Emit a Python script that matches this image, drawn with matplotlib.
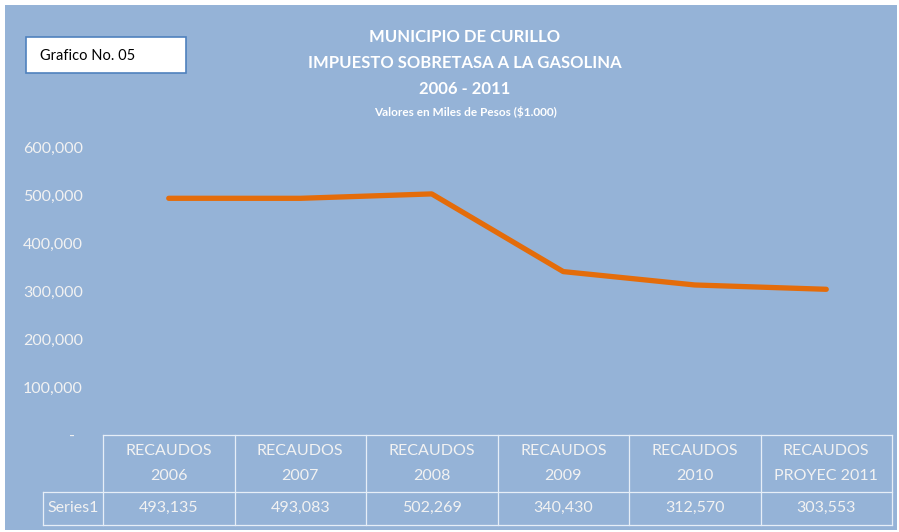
import matplotlib
matplotlib.use("Agg")
import matplotlib.pyplot as plt
from matplotlib.patches import Rectangle
from matplotlib.transforms import blended_transform_factory

plt.rcParams['font.family'] = ['Lato', 'DejaVu Sans']

categories = ["RECAUDOS\n2006", "RECAUDOS\n2007", "RECAUDOS\n2008",
              "RECAUDOS\n2009", "RECAUDOS\n2010", "RECAUDOS\nPROYEC 2011"]
values = [493135, 493083, 502269, 340430, 312570, 303553]
series_name = "Series1"
yticks = [0, 100000, 200000, 300000, 400000, 500000, 600000]
ytick_labels = ["-  ", "100,000", "200,000", "300,000", "400,000", "500,000", "600,000"]
title_lines = ["MUNICIPIO DE CURILLO", "IMPUESTO SOBRETASA A LA GASOLINA", "2006 - 2011"]
subtitle = "Valores en Miles de Pesos ($1.000)"
box_label = "Grafico No. 05"

W, H = 899, 532
BG = "#95B3D7"
TXT = "#F2F2F2"
LINE = "#E46C0A"
GRID = "#E6EEF7"
FS = 11.5

fig = plt.figure(figsize=(W / 100, H / 100), dpi=100)
fig.patch.set_facecolor("white")

def fx(px):
    return px / W

def fy(py):
    return 1 - py / H

fig.patches.append(Rectangle((fx(5), fy(530)), fx(897) - fx(5), fy(5) - fy(530),
                             transform=fig.transFigure, facecolor=BG, edgecolor="none", zorder=-5))

ty = [37, 63, 89]
for t, y in zip(title_lines, ty):
    fig.text(fx(465), fy(y), t, ha="center", va="center", color="white",
             fontsize=12, fontweight="bold")
fig.text(fx(465), fy(112), subtitle, ha="center", va="center", color="white",
         fontsize=8.5, fontweight="bold")

fig.patches.append(Rectangle((fx(26), fy(73)), fx(186) - fx(26), fy(37) - fy(73),
                             transform=fig.transFigure, facecolor="white",
                             edgecolor="#4F81BD", linewidth=1.2, zorder=2))
fig.text(fx(40), fy(56), box_label, ha="left", va="center", color="black", fontsize=10.5, zorder=3)

ax = fig.add_axes([fx(103), fy(435), fx(892) - fx(103), fy(147) - fy(435)])
ax.set_facecolor("none")
x = list(range(len(values)))
ax.plot(x, values, color=LINE, linewidth=3.8, solid_capstyle="round", solid_joinstyle="round")
ax.set_xlim(-0.5, len(values) - 0.5)
ax.set_ylim(0, 600000)
ax.set_yticks(yticks)
ax.set_yticklabels(ytick_labels)
ax.tick_params(axis="y", length=0, pad=14.4, labelsize=FS, labelcolor=TXT)
ax.set_xticks([])
for s in ax.spines.values():
    s.set_visible(False)

bt = blended_transform_factory(ax.transData, ax.transAxes)
ah = 435 - 147
r1 = -(492 - 435) / ah
r2 = -(525 - 435) / ah
left_cell = -(103 - 43) / (892 - 103)
lw = 0.9
ax.plot([-0.5, len(values) - 0.5], [0, 0], transform=bt, color=GRID, lw=lw, clip_on=False)
for b in [i - 0.5 for i in range(len(values) + 1)]:
    ax.plot([b, b], [0, r2], transform=bt, color=GRID, lw=lw, clip_on=False)
ax.plot([left_cell, 1], [r1, r1], transform=ax.transAxes, color=GRID, lw=lw, clip_on=False)
ax.plot([left_cell, 1], [r2, r2], transform=ax.transAxes, color=GRID, lw=lw, clip_on=False)
ax.plot([left_cell, left_cell], [r1, r2], transform=ax.transAxes, color=GRID, lw=lw, clip_on=False)

for i, (c, v) in enumerate(zip(categories, values)):
    l1, l2 = c.split("\n")
    ax.text(i, -(451 - 435) / ah, l1, transform=bt, ha="center", va="center", color=TXT, fontsize=FS)
    ax.text(i, -(476 - 435) / ah, l2, transform=bt, ha="center", va="center", color=TXT, fontsize=FS)
    ax.text(i, -(508 - 435) / ah, f"{v:,}", transform=bt, ha="center", va="center", color=TXT, fontsize=FS)
ax.text(left_cell / 2, -(508 - 435) / ah, series_name, transform=ax.transAxes,
        ha="center", va="center", color=TXT, fontsize=FS)

fig.savefig("out.png", dpi=100, facecolor=fig.get_facecolor())
